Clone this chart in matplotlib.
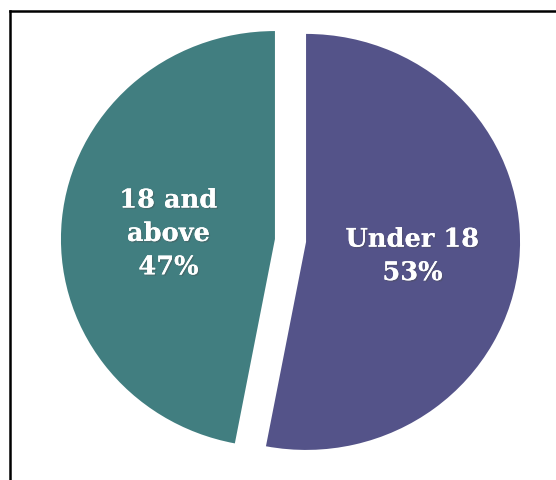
import matplotlib.pyplot as plt
import matplotlib.patheffects as pe
import numpy as np
from matplotlib.lines import Line2D

# Age split
groups = ['Under 18', '18 and\nabove']
shares = [53, 47]
colors = ['#545389', '#417E80']

fig = plt.figure(figsize=(5.56, 4.81), dpi=100)
ax = fig.add_axes([0, 0, 1, 1])

wedges, _ = ax.pie(shares, colors=colors, startangle=90, counterclock=False,
                   explode=[0.073, 0.073], radius=1.0,
                   wedgeprops=dict(linewidth=0))

# slightly squashed pie, placed within the frame
ax.set_aspect('auto')
ax.set_xlim(-1.3575, 1.2407)
ax.set_ylim(-1.1514, 1.161)
ax.axis('off')

total = sum(shares)
for w, name, val in zip(wedges, groups, shares):
    mid = np.deg2rad((w.theta1 + w.theta2) / 2)
    cx, cy = w.center
    x = cx + 0.5 * np.cos(mid)
    y = cy + 0.5 * np.sin(mid) - 0.02
    ax.text(x, y, f"{name}\n{val / total * 100:.0f}%", ha='center', va='center',
            color='white', fontsize=18.5, fontweight='bold', family='DejaVu Serif',
            linespacing=1.42,
            path_effects=[pe.withSimplePatchShadow(offset=(1, -1), alpha=0.35),
                          pe.Normal()])

# frame lines on top and left
fig.add_artist(Line2D([10 / 556, 1], [1 - 12 / 481, 1 - 12 / 481],
                      transform=fig.transFigure, color='black', linewidth=1.8))
fig.add_artist(Line2D([10 / 556, 10 / 556], [0, 1 - 12 / 481],
                      transform=fig.transFigure, color='black', linewidth=1.8))

fig.savefig('out.png', dpi=100)
